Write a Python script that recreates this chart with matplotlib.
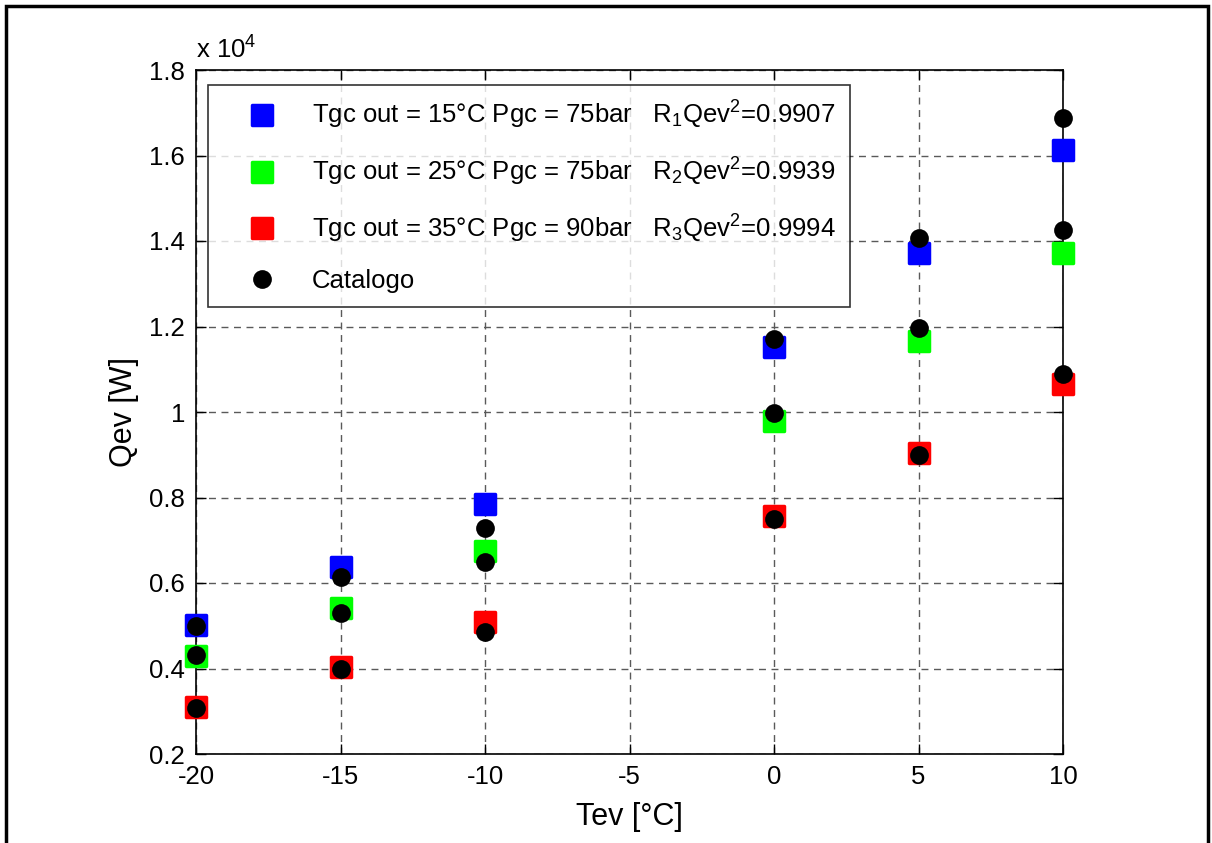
import matplotlib
matplotlib.use('Agg')
import matplotlib.pyplot as plt
from matplotlib.markers import MarkerStyle
from matplotlib.patches import Rectangle
from matplotlib.ticker import FuncFormatter

plt.rcParams['font.family'] = ['Liberation Sans', 'DejaVu Sans']
plt.rcParams['mathtext.default'] = 'regular'
plt.rcParams['axes.unicode_minus'] = False

# evaporating temperature [°C]
tev = [-20, -15, -10, 0, 5, 10]

# model results [W]
qev_15 = [5020, 6370, 7840, 11510, 13710, 16140]
qev_25 = [4300, 5420, 6750, 9800, 11650, 13710]
qev_35 = [3110, 4040, 5090, 7570, 9050, 10660]

# catalogue values [W]
cat_15 = [5000, 6150, 7290, 11700, 14080, 16880]
cat_25 = [4320, 5290, 6500, 9970, 11960, 14260]
cat_35 = [3080, 3990, 4860, 7490, 8990, 10890]

labels = ['Tgc out = 15°C Pgc = 75bar   R$_1$Qev$^2$=0.9907',
          'Tgc out = 25°C Pgc = 75bar   R$_2$Qev$^2$=0.9939',
          'Tgc out = 35°C Pgc = 90bar   R$_3$Qev$^2$=0.9994',
          'Catalogo']
colors = ['#0000ff', '#00ff00', '#ff0000']

scale = 1e4
sq = MarkerStyle('s', joinstyle='round')

fig = plt.figure(figsize=(12.12, 8.43), dpi=100)
ax = fig.add_axes([196 / 1212, 1 - 754 / 843, (1063 - 196) / 1212, (754 - 70) / 843])

handles = []
for ys, c in zip([qev_15, qev_25, qev_35], colors):
    h, = ax.plot(tev, [v / scale for v in ys], marker=sq, color=c, markersize=14,
                 markeredgewidth=2.5, markeredgecolor=c, linestyle='none', zorder=3,
                 clip_on=False)
    handles.append(h)

for ys in [cat_15, cat_25, cat_35]:
    h, = ax.plot(tev, [v / scale for v in ys], 'o', color='black', markersize=13.5,
                 markeredgewidth=0, linestyle='none', zorder=4, clip_on=False)
handles.append(h)

ax.set_xlim(-20, 10)
ax.set_ylim(0.2, 1.8)
ax.set_xticks([-20, -15, -10, -5, 0, 5, 10])
ax.set_yticks([0.2, 0.4, 0.6, 0.8, 1.0, 1.2, 1.4, 1.6, 1.8])
ax.yaxis.set_major_formatter(FuncFormatter(lambda v, p: '%g' % round(v, 2)))
ax.tick_params(direction='in', length=7, width=1, labelsize=18.5, top=True, right=True, pad=8)
ax.grid(True, color='#5a5a5a', linestyle=(0, (5, 4)), linewidth=1)
ax.set_axisbelow(True)
for s in ax.spines.values():
    s.set_linewidth(1.2)

ax.set_xlabel('Tev [°C]', fontsize=22, labelpad=9)
ax.set_ylabel('Qev [W]', fontsize=22, labelpad=7)
ax.text(0, 1.01, 'x 10$^4$', transform=ax.transAxes, fontsize=18.5, ha='left', va='bottom')

leg = ax.legend(handles, labels, loc='upper left', bbox_to_anchor=(12 / 867, 1 - 15 / 684),
                fontsize=18.5, frameon=True, fancybox=False, borderpad=0.55,
                labelspacing=0.95, handletextpad=0.4, handlelength=3.1, borderaxespad=0)
leg.get_frame().set_edgecolor('black')
leg.get_frame().set_linewidth(1.2)

fig.patches.append(Rectangle((6 / 1212, -0.05), (1208 - 6) / 1212, 1.05 - 6 / 843,
                             transform=fig.transFigure, fill=False, edgecolor='black',
                             linewidth=2.5))

fig.savefig('out.png', dpi=100)
